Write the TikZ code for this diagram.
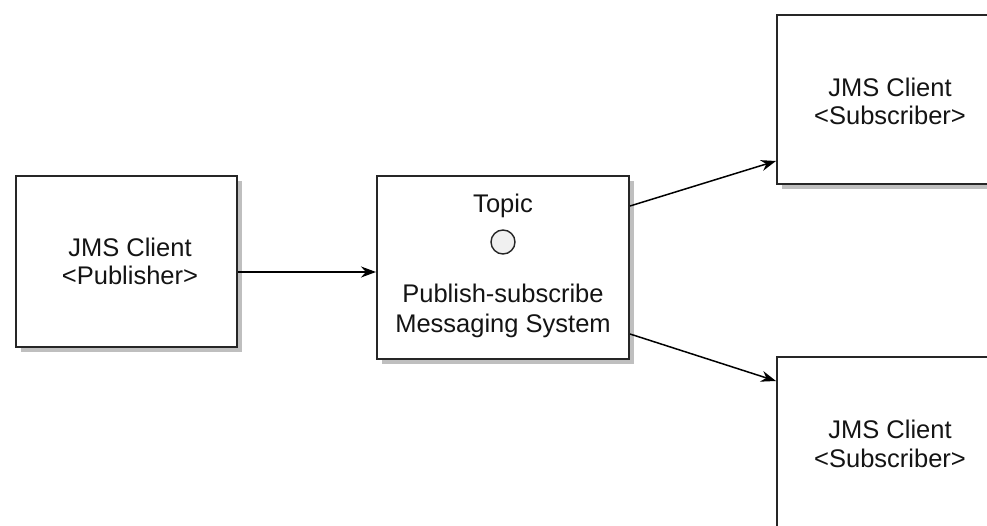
\documentclass[tikz,border=0pt]{standalone}
\usepackage{fontspec}
\setmainfont{Liberation Sans}
\usetikzlibrary{arrows.meta,shadows}
\begin{document}
\begin{tikzpicture}[x=1pt,y=-1pt,
  box/.style={draw=black!85, line width=2pt, fill=white, rectangle, inner sep=0pt,
    drop shadow={shadow xshift=5pt, shadow yshift=-5pt, fill=black!25, opacity=1}},
  txt/.style={font=\fontsize{25.5}{29}\selectfont, align=center, text=black!92},
  arr/.style={draw=black, line width=1.5pt, -{Stealth[length=15pt,width=11pt]}},
  topiccirc/.style={circle, draw=black!85, line width=1.4pt, fill=black!6, minimum size=24pt, inner sep=0pt}
]
\useasboundingbox (0,0) rectangle (987,526);
\clip (0,0) rectangle (987,526);
% boxes
\node[box, minimum width=221pt, minimum height=171pt] (pub) at (126.5,261.5) {};
\node[box, minimum width=252pt, minimum height=183pt] (mid) at (503,267.5) {};
\node[box, minimum width=220pt, minimum height=169pt] (subA) at (887,99.5) {};
\node[box, minimum width=220pt, minimum height=172pt] (subB) at (887,443) {};
% texts
\node[txt, anchor=base] (pubt1) at (130,257) {JMS Client};
\node[txt, anchor=base] (pubt2) at (130,285) {<Publisher>};
\node[txt, anchor=base] (topic) at (503,213) {Topic};
\node[topiccirc] (tcirc) at (503,242) {};
\node[txt, anchor=base] (midt1) at (503,303) {Publish-subscribe};
\node[txt, anchor=base] (midt2) at (503,333) {Messaging System};
\node[txt, anchor=base] (sat1) at (890,97) {JMS Client};
\node[txt, anchor=base] (sat2) at (890,125) {<Subscriber>};
\node[txt, anchor=base] (sbt1) at (890,438) {JMS Client};
\node[txt, anchor=base] (sbt2) at (890,467) {<Subscriber>};
% connectors
\draw[arr] ([yshift=-10.5pt]pub.east) -- ([yshift=-10.5pt]pub.east -| mid.west);
\draw[arr] ([yshift=-31pt]mid.north east) -- ([yshift=24pt]subA.south west);
\draw[arr] ([yshift=26pt]mid.south east) -- ([yshift=-25pt]subB.north west);
\end{tikzpicture}
\end{document}
